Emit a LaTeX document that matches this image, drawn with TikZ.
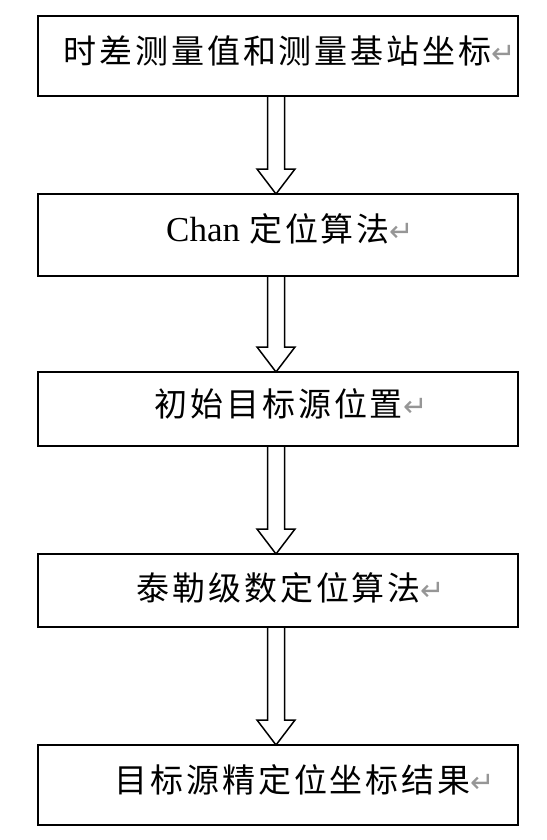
\documentclass[tikz,border=0pt]{standalone}
\usepackage{fontspec}
\setmainfont{Liberation Serif}
\newfontfamily\cjkf[LetterSpace=9]{Noto Sans CJK SC}
\newfontfamily\symf{DejaVu Sans}
\usetikzlibrary{calc}
\definecolor{markgray}{RGB}{150,150,150}
\newcommand{\pmark}{{\symf\fontsize{29}{32}\selectfont\textcolor{markgray}{↵}}}
\tikzset{
  box/.style={draw=black, line width=2pt, minimum width=480pt, inner sep=0pt, outer sep=0pt},
  lbl/.style={anchor=west, inner sep=0pt, font=\fontsize{33}{38}\selectfont},
  fat/.style={draw=black, line width=1.5pt, line join=miter},
}
\newcommand{\fatarrow}[2]{%
  \draw[fat] ($(#1.south)+(-10.5,0)$) -- ($(#2.north)+(-10.5,-25)$)
    -- ($(#2.north)+(-21,-25)$) -- ($(#2.north)+(-2,0)$)
    -- ($(#2.north)+(17,-25)$) -- ($(#2.north)+(6.5,-25)$)
    -- ($(#1.south)+(6.5,0)$);}
\begin{document}
\begin{tikzpicture}[x=1pt,y=-1pt]
\useasboundingbox[fill=white] (0,0) rectangle (546,840);
\node[box, minimum height=80pt] (b1) at (278,56) {};
\node[box, minimum height=82pt] (b2) at (278,235) {};
\node[box, minimum height=74pt] (b3) at (278,409) {};
\node[box, minimum height=73pt] (b4) at (278,590.5) {};
\node[box, minimum height=80pt] (b5) at (278,785) {};
\node[lbl] (t1) at (63,51) {\cjkf 时差测量值和测量基站坐标\pmark};
\node[lbl] (t2) at (166,229) {\fontsize{35}{40}\selectfont Chan\hspace{9pt}{\cjkf\fontsize{33}{38}\selectfont 定位算法}\pmark};
\node[lbl] (t3) at (154,404) {\cjkf 初始目标源位置\pmark};
\node[lbl] (t4) at (136,588) {\cjkf 泰勒级数定位算法\pmark};
\node[lbl] (t5) at (114,780) {\cjkf 目标源精定位坐标结果\pmark};
\fatarrow{b1}{b2}
\fatarrow{b2}{b3}
\fatarrow{b3}{b4}
\fatarrow{b4}{b5}
\end{tikzpicture}
\end{document}
